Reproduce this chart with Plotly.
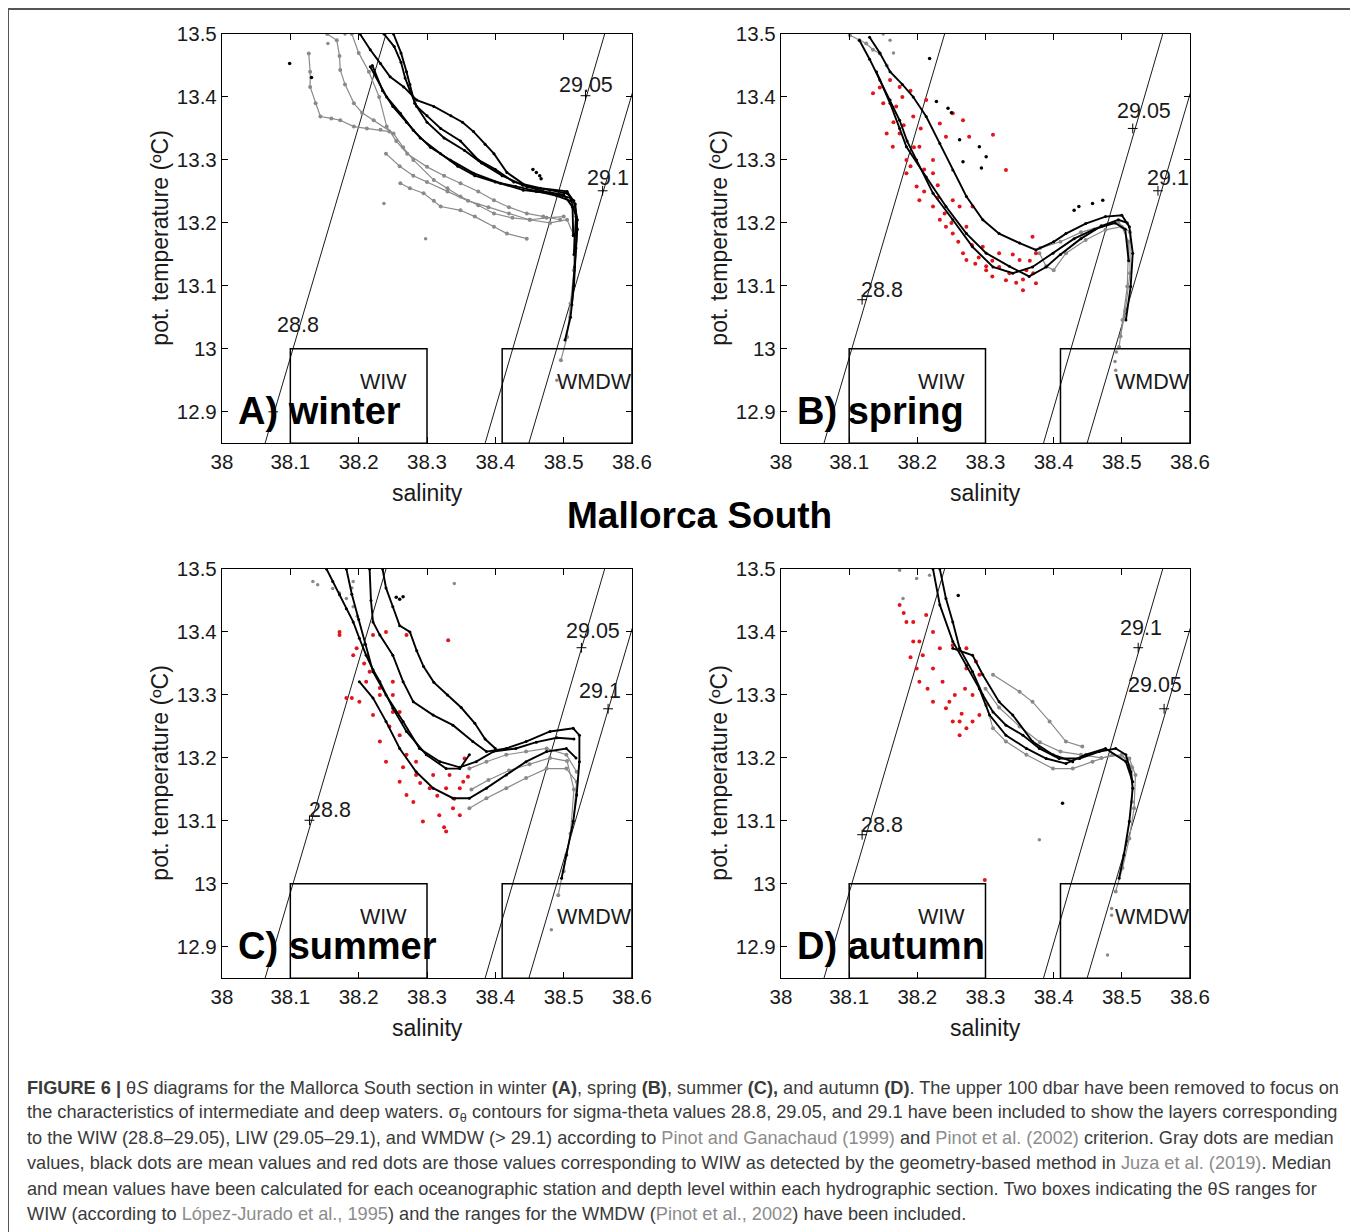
import plotly.graph_objects as go

FONT = "Liberation Sans, Arial, sans-serif"
GRAY = "#8a8a8a"
RED = "#e3141b"
TXT = "#1a1a1a"

# ---- axes ----
S_RANGE = [38.0, 38.6]
T_RANGE = [12.85, 13.5]
S_TICKS = [38.0, 38.1, 38.2, 38.3, 38.4, 38.5, 38.6]
S_TICKTEXT = ["38", "38.1", "38.2", "38.3", "38.4", "38.5", "38.6"]
T_TICKS = [12.9, 13.0, 13.1, 13.2, 13.3, 13.4, 13.5]
T_TICKTEXT = ["12.9", "13", "13.1", "13.2", "13.3", "13.4", "13.5"]

# ---- sigma-theta contours (salinity at T=12.85 and T=13.5) ----
SIGMA_S_BOTTOM = [38.063, 38.385, 38.449]
SIGMA_S_TOP = [38.240, 38.560, 38.626]
SIGMA_T = [12.85, 13.5]

# ---- water-mass boxes ----
BOX_NAMES = ["WIW", "WMDW"]
BOX_S = [(38.1, 38.3), (38.41, 38.6)]
BOX_T = (12.85, 13.0)
BOX_LABEL_S = [38.236, 38.545]
BOX_LABEL_T = 12.948

# ---- panels ----
PANEL_TITLES = ["A) winter", "B) spring", "C) summer", "D) autumn"]

# contour labels per panel: (text, text S, text T, cross S, cross T)
WINTER_LABELS = [("28.8", 38.111, 13.038, 38.075, 12.90),
                 ("29.05", 38.532, 13.419, 38.532, 13.402),
                 ("29.1", 38.565, 13.271, 38.557, 13.251)]
SPRING_LABELS = [("28.8", 38.148, 13.093, 38.119, 13.078),
                 ("29.05", 38.533, 13.377, 38.516, 13.350),
                 ("29.1", 38.567, 13.271, 38.553, 13.251)]
SUMMER_LABELS = [("28.8", 38.158, 13.117, 38.128, 13.101),
                 ("29.05", 38.543, 13.402, 38.526, 13.375),
                 ("29.1", 38.553, 13.306, 38.565, 13.278)]
AUTUMN_LABELS = [("28.8", 38.148, 13.093, 38.119, 13.078),
                 ("29.1", 38.528, 13.407, 38.524, 13.375),
                 ("29.05", 38.548, 13.316, 38.562, 13.278)]

# ---- winter ----
WINTER_MEAN = [
    [(38.202, 13.50), (38.217, 13.475), (38.232, 13.453), (38.246, 13.432), (38.266, 13.416),
     (38.285, 13.395), (38.310, 13.385), (38.335, 13.37), (38.352, 13.36), (38.368, 13.345),
     (38.385, 13.325), (38.398, 13.31), (38.417, 13.28), (38.446, 13.258), (38.48, 13.252),
     (38.505, 13.247), (38.515, 13.235), (38.52, 13.205), (38.518, 13.16), (38.515, 13.10),
     (38.51, 13.05), (38.502, 13.014)],
    [(38.237, 13.50), (38.252, 13.48), (38.262, 13.455), (38.268, 13.43), (38.275, 13.41),
     (38.285, 13.385), (38.30, 13.37), (38.320, 13.35), (38.349, 13.33), (38.375, 13.30),
     (38.400, 13.285), (38.427, 13.265), (38.466, 13.255), (38.505, 13.25), (38.517, 13.23),
     (38.52, 13.19), (38.516, 13.13), (38.512, 13.07)],
    [(38.217, 13.448), (38.241, 13.40), (38.261, 13.374), (38.280, 13.347), (38.305, 13.32),
     (38.334, 13.30), (38.368, 13.279), (38.407, 13.263), (38.441, 13.252), (38.48, 13.247),
     (38.51, 13.24), (38.518, 13.21), (38.515, 13.15)],
    [(38.251, 13.50), (38.262, 13.47), (38.27, 13.44), (38.275, 13.42), (38.282, 13.39),
     (38.30, 13.36), (38.325, 13.335), (38.355, 13.315), (38.38, 13.295), (38.41, 13.275),
     (38.44, 13.26), (38.47, 13.25), (38.50, 13.245), (38.513, 13.225), (38.514, 13.18)],
    [(38.22, 13.45), (38.235, 13.41), (38.25, 13.385), (38.27, 13.36), (38.29, 13.335),
     (38.32, 13.31), (38.345, 13.29), (38.37, 13.275), (38.40, 13.265), (38.43, 13.258),
     (38.46, 13.25), (38.49, 13.243), (38.51, 13.235)],
]
WINTER_MEAN_OUT = [(38.099, 13.453), (38.131, 13.431), (38.455, 13.285), (38.46, 13.28),
                   (38.465, 13.275), (38.467, 13.27)]
WINTER_MEDIAN = [
    [(38.127, 13.469), (38.129, 13.44), (38.129, 13.416), (38.137, 13.39), (38.144, 13.369),
     (38.16, 13.366), (38.173, 13.363), (38.193, 13.353), (38.212, 13.35), (38.232, 13.348),
     (38.245, 13.345)],
    [(38.154, 13.50), (38.168, 13.49), (38.172, 13.465), (38.173, 13.443), (38.18, 13.42),
     (38.193, 13.39), (38.205, 13.375), (38.222, 13.363), (38.251, 13.342), (38.265, 13.32),
     (38.28, 13.30), (38.31, 13.268), (38.33, 13.255), (38.349, 13.242), (38.375, 13.228),
     (38.398, 13.215), (38.425, 13.208), (38.451, 13.205), (38.475, 13.208), (38.50, 13.21)],
    [(38.19, 13.50), (38.20, 13.47), (38.215, 13.44), (38.23, 13.40), (38.241, 13.353),
     (38.255, 13.33), (38.271, 13.31), (38.3, 13.289), (38.325, 13.275), (38.349, 13.263),
     (38.375, 13.25), (38.398, 13.236), (38.42, 13.225), (38.446, 13.215), (38.47, 13.21),
     (38.495, 13.205)],
    [(38.261, 13.263), (38.275, 13.255), (38.295, 13.247), (38.31, 13.235), (38.32, 13.226),
     (38.349, 13.22), (38.37, 13.21), (38.398, 13.194), (38.417, 13.183), (38.446, 13.175)],
    [(38.24, 13.31), (38.26, 13.29), (38.28, 13.275), (38.30, 13.265), (38.33, 13.25),
     (38.36, 13.235), (38.39, 13.225), (38.42, 13.215), (38.45, 13.205), (38.48, 13.20),
     (38.505, 13.205), (38.515, 13.18), (38.515, 13.125), (38.51, 13.072), (38.505, 13.019),
     (38.496, 12.982)],
]
WINTER_MEDIAN_OUT = [(38.237, 13.231), (38.298, 13.175), (38.49, 12.95), (38.18, 13.50),
                     (38.155, 13.485)]
WINTER_WIW = []

# ---- spring ----
SPRING_MEAN = [
    [(38.13, 13.495), (38.145, 13.47), (38.16, 13.44), (38.178, 13.42), (38.194, 13.40),
     (38.213, 13.369), (38.233, 13.326), (38.252, 13.284), (38.272, 13.242), (38.296, 13.205),
     (38.32, 13.183), (38.35, 13.168), (38.374, 13.157), (38.40, 13.17), (38.418, 13.183),
     (38.447, 13.199), (38.476, 13.21), (38.50, 13.212), (38.511, 13.194), (38.516, 13.152),
     (38.513, 13.099), (38.506, 13.046)],
    [(38.115, 13.49), (38.13, 13.46), (38.145, 13.427), (38.16, 13.395), (38.174, 13.363),
     (38.185, 13.33), (38.199, 13.30), (38.223, 13.247), (38.252, 13.205), (38.281, 13.162),
     (38.311, 13.13), (38.34, 13.12), (38.369, 13.13), (38.399, 13.152), (38.43, 13.175),
     (38.46, 13.19), (38.49, 13.20), (38.505, 13.19), (38.51, 13.14)],
    [(38.14, 13.44), (38.16, 13.39), (38.174, 13.35), (38.184, 13.321), (38.213, 13.273),
     (38.242, 13.226), (38.272, 13.183), (38.301, 13.152), (38.335, 13.131), (38.364, 13.115),
     (38.389, 13.13), (38.41, 13.15), (38.44, 13.175), (38.47, 13.195), (38.495, 13.205),
     (38.508, 13.20)],
]
SPRING_MEAN_OUT = [(38.218, 13.461), (38.228, 13.393), (38.245, 13.382), (38.25, 13.375),
                   (38.262, 13.332), (38.267, 13.297), (38.291, 13.321), (38.294, 13.287),
                   (38.301, 13.305), (38.437, 13.226), (38.457, 13.231), (38.472, 13.236),
                   (38.43, 13.22)]
SPRING_MEDIAN = [
    [(38.101, 13.498), (38.115, 13.49), (38.125, 13.485), (38.135, 13.475), (38.145, 13.469),
     (38.155, 13.45)],
    [(38.379, 13.152), (38.389, 13.131), (38.40, 13.125), (38.418, 13.152), (38.447, 13.173),
     (38.476, 13.189), (38.50, 13.194), (38.51, 13.17), (38.508, 13.099), (38.501, 13.046),
     (38.496, 13.003)],
    [(38.38, 13.16), (38.41, 13.17), (38.44, 13.185), (38.47, 13.195), (38.495, 13.20),
     (38.512, 13.185), (38.512, 13.12), (38.505, 13.06), (38.498, 13.02)],
]
SPRING_MEDIAN_OUT = [(38.15, 13.50), (38.16, 13.49), (38.165, 13.47), (38.491, 12.966),
                     (38.49, 12.98), (38.492, 12.995)]
SPRING_WIW = [
    (38.16, 13.427), (38.169, 13.385), (38.174, 13.342), (38.184, 13.30), (38.199, 13.258),
    (38.223, 13.226), (38.242, 13.194), (38.267, 13.152), (38.301, 13.131), (38.33, 13.109),
    (38.355, 13.093), (38.374, 13.104),
    (38.174, 13.416), (38.194, 13.369), (38.203, 13.321), (38.223, 13.279), (38.252, 13.236),
    (38.272, 13.194), (38.296, 13.162), (38.32, 13.152), (38.35, 13.141), (38.374, 13.152),
    (38.135, 13.406), (38.155, 13.342), (38.164, 13.321), (38.184, 13.279), (38.203, 13.236),
    (38.233, 13.205), (38.252, 13.183), (38.272, 13.141), (38.301, 13.125), (38.335, 13.12),
    (38.213, 13.395), (38.233, 13.358), (38.242, 13.337), (38.252, 13.374), (38.267, 13.363),
    (38.276, 13.337), (38.311, 13.34), (38.33, 13.284), (38.223, 13.30), (38.262, 13.226),
    (38.281, 13.226), (38.369, 13.178), (38.15, 13.39), (38.165, 13.36), (38.19, 13.29),
    (38.21, 13.25), (38.24, 13.215), (38.26, 13.17), (38.29, 13.145), (38.32, 13.13),
    (38.345, 13.105), (38.36, 13.125), (38.19, 13.41), (38.205, 13.35), (38.23, 13.26),
    (38.145, 13.415), (38.178, 13.40), (38.18, 13.355), (38.195, 13.32), (38.21, 13.285),
    (38.23, 13.24), (38.25, 13.20), (38.28, 13.165), (38.31, 13.14), (38.34, 13.15),
    (38.365, 13.14), (38.37, 13.12), (38.355, 13.11), (38.31, 13.115), (38.285, 13.135),
]

# ---- summer ----
SUMMER_MEAN = [
    [(38.153, 13.50), (38.162, 13.48), (38.172, 13.459), (38.182, 13.437), (38.192, 13.416),
     (38.201, 13.39), (38.211, 13.363), (38.221, 13.34), (38.231, 13.321), (38.25, 13.279),
     (38.27, 13.242), (38.299, 13.205), (38.328, 13.183), (38.348, 13.183), (38.362, 13.205)],
    [(38.216, 13.50), (38.218, 13.45), (38.221, 13.416), (38.231, 13.395), (38.25, 13.363),
     (38.265, 13.321), (38.28, 13.289), (38.309, 13.268), (38.338, 13.252), (38.367, 13.226),
     (38.387, 13.21), (38.416, 13.215), (38.445, 13.226), (38.48, 13.242), (38.514, 13.247),
     (38.523, 13.236), (38.523, 13.194), (38.519, 13.141), (38.514, 13.099), (38.504, 13.046),
     (38.497, 13.009)],
    [(38.182, 13.50), (38.19, 13.46), (38.20, 13.42), (38.21, 13.38), (38.221, 13.337),
     (38.24, 13.30), (38.265, 13.258), (38.289, 13.215), (38.319, 13.194), (38.348, 13.185),
     (38.372, 13.194), (38.397, 13.21), (38.43, 13.215), (38.46, 13.225), (38.49, 13.232),
     (38.515, 13.23)],
    [(38.201, 13.321), (38.221, 13.295), (38.24, 13.258), (38.26, 13.215), (38.284, 13.178),
     (38.309, 13.152), (38.338, 13.136), (38.362, 13.136), (38.387, 13.152), (38.416, 13.173),
     (38.445, 13.194), (38.475, 13.21), (38.504, 13.215), (38.518, 13.20)],
    [(38.235, 13.50), (38.24, 13.47), (38.25, 13.44), (38.26, 13.41), (38.275, 13.40),
     (38.285, 13.37), (38.295, 13.345), (38.31, 13.32), (38.33, 13.30), (38.35, 13.28),
     (38.37, 13.255), (38.385, 13.23), (38.40, 13.215)],
]
SUMMER_MEAN_OUT = [(38.255, 13.455), (38.26, 13.452), (38.265, 13.456)]
SUMMER_MEDIAN = [
    [(38.362, 13.183), (38.387, 13.194), (38.416, 13.205), (38.445, 13.21), (38.475, 13.215),
     (38.504, 13.205), (38.519, 13.178)],
    [(38.362, 13.12), (38.387, 13.136), (38.416, 13.152), (38.445, 13.168), (38.475, 13.183),
     (38.504, 13.183), (38.519, 13.162), (38.514, 13.099), (38.504, 13.046), (38.492, 12.982)],
    [(38.365, 13.15), (38.39, 13.165), (38.42, 13.18), (38.45, 13.19), (38.48, 13.20),
     (38.505, 13.195), (38.515, 13.15), (38.51, 13.08), (38.50, 13.02)],
]
SUMMER_MEDIAN_OUT = [(38.133, 13.48), (38.14, 13.475), (38.162, 13.469), (38.172, 13.462),
                     (38.182, 13.453), (38.192, 13.44), (38.198, 13.425), (38.192, 13.48),
                     (38.19, 13.47), (38.34, 13.477), (38.482, 12.927)]
SUMMER_WIW = [
    (38.172, 13.395), (38.192, 13.363), (38.211, 13.321), (38.231, 13.30), (38.25, 13.273),
    (38.26, 13.236), (38.27, 13.205), (38.284, 13.173), (38.304, 13.152), (38.328, 13.152),
    (38.353, 13.162),
    (38.182, 13.295), (38.201, 13.289), (38.221, 13.268), (38.231, 13.226), (38.24, 13.194),
    (38.26, 13.162), (38.28, 13.13), (38.294, 13.099), (38.318, 13.109), (38.328, 13.083),
    (38.348, 13.109),
    (38.197, 13.374), (38.216, 13.337), (38.231, 13.311), (38.25, 13.30), (38.26, 13.273),
    (38.284, 13.194), (38.309, 13.173), (38.333, 13.173), (38.355, 13.199),
    (38.172, 13.40), (38.221, 13.395), (38.24, 13.40), (38.27, 13.395), (38.25, 13.321),
    (38.331, 13.387), (38.27, 13.141), (38.338, 13.12), (38.348, 13.152), (38.19, 13.295),
    (38.208, 13.35), (38.245, 13.25), (38.265, 13.185), (38.29, 13.16), (38.315, 13.14),
    (38.34, 13.135), (38.36, 13.17), (38.325, 13.09),
]

# ---- autumn ----
AUTUMN_MEAN = [
    [(38.233, 13.50), (38.242, 13.453), (38.252, 13.416), (38.262, 13.374), (38.281, 13.337),
     (38.296, 13.30), (38.311, 13.273), (38.33, 13.252), (38.355, 13.236), (38.379, 13.215),
     (38.408, 13.199), (38.438, 13.199), (38.467, 13.21), (38.491, 13.215), (38.506, 13.205),
     (38.513, 13.178), (38.516, 13.152), (38.511, 13.099), (38.503, 13.046), (38.496, 13.009)],
    [(38.223, 13.50), (38.233, 13.443), (38.252, 13.385), (38.272, 13.347), (38.291, 13.31),
     (38.306, 13.268), (38.33, 13.236), (38.36, 13.215), (38.389, 13.199), (38.418, 13.191),
     (38.447, 13.205), (38.476, 13.215), (38.506, 13.194), (38.516, 13.162)],
    [(38.252, 13.374), (38.281, 13.363), (38.296, 13.332), (38.32, 13.289), (38.34, 13.268),
     (38.369, 13.226), (38.399, 13.205), (38.428, 13.194)],
]
AUTUMN_MEAN_OUT = [(38.413, 13.128), (38.26, 13.458)]
AUTUMN_MEDIAN = [
    [(38.311, 13.332), (38.35, 13.305), (38.369, 13.289), (38.394, 13.258), (38.418, 13.226),
     (38.442, 13.218)],
    [(38.301, 13.284), (38.311, 13.247), (38.33, 13.226), (38.36, 13.205), (38.399, 13.183),
     (38.428, 13.183), (38.457, 13.194), (38.486, 13.205), (38.511, 13.199), (38.52, 13.173),
     (38.518, 13.12), (38.511, 13.072), (38.501, 13.025), (38.491, 12.988)],
    [(38.30, 13.31), (38.32, 13.28), (38.35, 13.25), (38.38, 13.225), (38.41, 13.21),
     (38.44, 13.205), (38.47, 13.20), (38.50, 13.205), (38.515, 13.185), (38.515, 13.13)],
]
AUTUMN_MEDIAN_OUT = [(38.174, 13.498), (38.199, 13.485), (38.218, 13.49), (38.179, 13.453),
                     (38.379, 13.07), (38.479, 12.887), (38.485, 12.961), (38.485, 12.95)]
AUTUMN_WIW = [
    (38.174, 13.443), (38.184, 13.416), (38.194, 13.385), (38.199, 13.342), (38.203, 13.321),
    (38.223, 13.289), (38.242, 13.279), (38.252, 13.258), (38.262, 13.236),
    (38.194, 13.416), (38.203, 13.385), (38.208, 13.363), (38.223, 13.342), (38.237, 13.321),
    (38.247, 13.289), (38.262, 13.258), (38.272, 13.247),
    (38.213, 13.427), (38.223, 13.40), (38.233, 13.374), (38.252, 13.379), (38.272, 13.374),
    (38.286, 13.353), (38.291, 13.332), (38.272, 13.342), (38.281, 13.30), (38.291, 13.268),
    (38.281, 13.258), (38.299, 13.006), (38.18, 13.43), (38.19, 13.36), (38.215, 13.31),
    (38.255, 13.30), (38.265, 13.27), (38.27, 13.31),
]

PANELS = [
    (WINTER_MEAN, WINTER_MEAN_OUT, WINTER_MEDIAN, WINTER_MEDIAN_OUT, WINTER_WIW, WINTER_LABELS),
    (SPRING_MEAN, SPRING_MEAN_OUT, SPRING_MEDIAN, SPRING_MEDIAN_OUT, SPRING_WIW, SPRING_LABELS),
    (SUMMER_MEAN, SUMMER_MEAN_OUT, SUMMER_MEDIAN, SUMMER_MEDIAN_OUT, SUMMER_WIW, SUMMER_LABELS),
    (AUTUMN_MEAN, AUTUMN_MEAN_OUT, AUTUMN_MEDIAN, AUTUMN_MEDIAN_OUT, AUTUMN_WIW, AUTUMN_LABELS),
]

W, H = 1358, 1232
PAGE_PAD = 8  # the page body adds an 8px margin around the figure


def fx(px):
    return (px - PAGE_PAD) / W


def fy(py):
    return 1 - (py - PAGE_PAD) / H


X_DOMAINS = [[fx(222), fx(632)], [fx(781), fx(1190)]]
Y_DOMAINS = [[fy(443.3), fy(34)], [fy(978.3), fy(569)]]

fig = go.Figure()
annotations = []
shapes = []


def xy(points):
    return [p[0] for p in points], [p[1] for p in points]


def note(**kw):
    kw.setdefault("showarrow", False)
    kw.setdefault("xanchor", "center")
    kw.setdefault("yanchor", "middle")
    annotations.append(kw)


for i, (mean, mean_out, median, median_out, wiw, labels) in enumerate(PANELS):
    n = "" if i == 0 else str(i + 1)
    xa, ya = "x" + n, "y" + n
    row, col = divmod(i, 2)

    axis_common = dict(showgrid=False, zeroline=False, showline=True, linecolor="black",
                       linewidth=1.3, mirror="ticks", ticks="inside", ticklen=6,
                       tickcolor="black", tickwidth=1.2, automargin=False,
                       tickfont=dict(family=FONT, size=20.5, color=TXT))
    fig.layout["xaxis" + n] = dict(domain=X_DOMAINS[col], range=S_RANGE, anchor=ya,
                                   tickvals=S_TICKS, ticktext=S_TICKTEXT, **axis_common)
    fig.layout["yaxis" + n] = dict(domain=Y_DOMAINS[row], range=T_RANGE, anchor=xa,
                                   tickvals=T_TICKS, ticktext=T_TICKTEXT, **axis_common)

    # sigma-theta contours
    for sb, st in zip(SIGMA_S_BOTTOM, SIGMA_S_TOP):
        fig.add_trace(go.Scatter(x=[sb, st], y=SIGMA_T, mode="lines",
                                 line=dict(color="black", width=0.9),
                                 xaxis=xa, yaxis=ya, showlegend=False, hoverinfo="skip"))

    # median profiles (gray)
    for prof in median:
        px_, py_ = xy(prof)
        fig.add_trace(go.Scatter(x=px_, y=py_, mode="lines+markers",
                                 line=dict(color=GRAY, width=1.2),
                                 marker=dict(color=GRAY, size=4),
                                 xaxis=xa, yaxis=ya, showlegend=False))
    if median_out:
        px_, py_ = xy(median_out)
        fig.add_trace(go.Scatter(x=px_, y=py_, mode="markers",
                                 marker=dict(color=GRAY, size=3.5),
                                 xaxis=xa, yaxis=ya, showlegend=False))

    # WIW detections (red)
    if wiw:
        px_, py_ = xy(wiw)
        fig.add_trace(go.Scatter(x=px_, y=py_, mode="markers",
                                 marker=dict(color=RED, size=4),
                                 xaxis=xa, yaxis=ya, showlegend=False))

    # mean profiles (black)
    for prof in mean:
        px_, py_ = xy(prof)
        fig.add_trace(go.Scatter(x=px_, y=py_, mode="lines+markers",
                                 line=dict(color="black", width=1.9),
                                 marker=dict(color="black", size=3),
                                 xaxis=xa, yaxis=ya, showlegend=False))
    if mean_out:
        px_, py_ = xy(mean_out)
        fig.add_trace(go.Scatter(x=px_, y=py_, mode="markers",
                                 marker=dict(color="black", size=3.5),
                                 xaxis=xa, yaxis=ya, showlegend=False))

    # contour label crosses
    fig.add_trace(go.Scatter(x=[lb[3] for lb in labels], y=[lb[4] for lb in labels],
                             mode="markers",
                             marker=dict(symbol="cross-thin", size=7,
                                         line=dict(color="black", width=1)),
                             xaxis=xa, yaxis=ya, showlegend=False))
    for text, tx, ty, _, _ in labels:
        note(x=tx, y=ty, xref=xa, yref=ya, text=text,
             font=dict(family=FONT, size=21.5, color=TXT))

    # water-mass boxes
    for name, (s0, s1), lx in zip(BOX_NAMES, BOX_S, BOX_LABEL_S):
        shapes.append(dict(type="rect", xref=xa, yref=ya, x0=s0, x1=s1,
                           y0=BOX_T[0], y1=BOX_T[1], line=dict(color="black", width=1.5)))
        note(x=lx, y=BOX_LABEL_T, xref=xa, yref=ya, text=name,
             font=dict(family=FONT, size=21.5, color=TXT))

    note(x=38.021, y=12.902, xref=xa, yref=ya, text="<b>%s</b>" % PANEL_TITLES[i],
         xanchor="left", font=dict(family=FONT, size=38, color="black"))

    # axis titles
    x0, x1 = X_DOMAINS[col]
    y0, y1 = Y_DOMAINS[row]
    note(x=(x0 + x1) / 2, y=y0 - 50 / H, xref="paper", yref="paper", text="salinity",
         font=dict(family=FONT, size=23, color=TXT))
    note(x=x0 - 62 / W, y=(y0 + y1) / 2, xref="paper", yref="paper",
         text="pot. temperature (ºC)", textangle=-90,
         font=dict(family=FONT, size=23, color=TXT))

note(x=fx(699), y=fy(515), xref="paper", yref="paper", text="<b>Mallorca South</b>",
     font=dict(family=FONT, size=37, color="black"))

REF = '<span style="color:#8c8c8c">%s</span>'
CAPTION = [
    "<b>FIGURE 6 |</b> θ<i>S</i> diagrams for the Mallorca South section in winter <b>(A)</b>, "
    "spring <b>(B)</b>, summer <b>(C),</b> and autumn <b>(D)</b>. The upper 100 dbar have been "
    "removed to focus on",
    "the characteristics of intermediate and deep waters. σ<sub>θ</sub> contours for sigma-theta "
    "values 28.8, 29.05, and 29.1 have been included to show the layers corresponding",
    "to the WIW (28.8–29.05), LIW (29.05–29.1), and WMDW (> 29.1) according to "
    + REF % "Pinot and Ganachaud (1999)" + " and " + REF % "Pinot et al. (2002)"
    + " criterion. Gray dots are median",
    "values, black dots are mean values and red dots are those values corresponding to WIW as "
    "detected by the geometry-based method in " + REF % "Juza et al. (2019)" + ". Median",
    "and mean values have been calculated for each oceanographic station and depth level within "
    "each hydrographic section. Two boxes indicating the θS ranges for",
    "WIW (according to " + REF % "López-Jurado et al., 1995" + ") and the ranges for the WMDW ("
    + REF % "Pinot et al., 2002" + ") have been included.",
]
CAPTION_Y = [1088, 1113, 1138, 1163, 1189, 1214]
for line, cy in zip(CAPTION, CAPTION_Y):
    note(x=fx(25), y=fy(cy), xref="paper", yref="paper", text=line, xanchor="left",
         font=dict(family=FONT, size=18.2, color="#3a3a3a"))

# outer frame (open at the bottom, as in the cropped original)
shapes.append(dict(type="path", xref="paper", yref="paper",
                   path="M %f,%f L %f,%f L %f,%f L %f,%f" % (fx(8), -0.02, fx(8), fy(9),
                                                             fx(1356), fy(9), fx(1356), -0.02),
                   line=dict(color="#555555", width=2)))

fig.update_layout(width=W, height=H,
                  margin=dict(l=0, r=0, t=0, b=0, pad=0, autoexpand=False),
                  plot_bgcolor="white", paper_bgcolor="white",
                  annotations=annotations, shapes=shapes, showlegend=False)

fig.write_html("out.html")
